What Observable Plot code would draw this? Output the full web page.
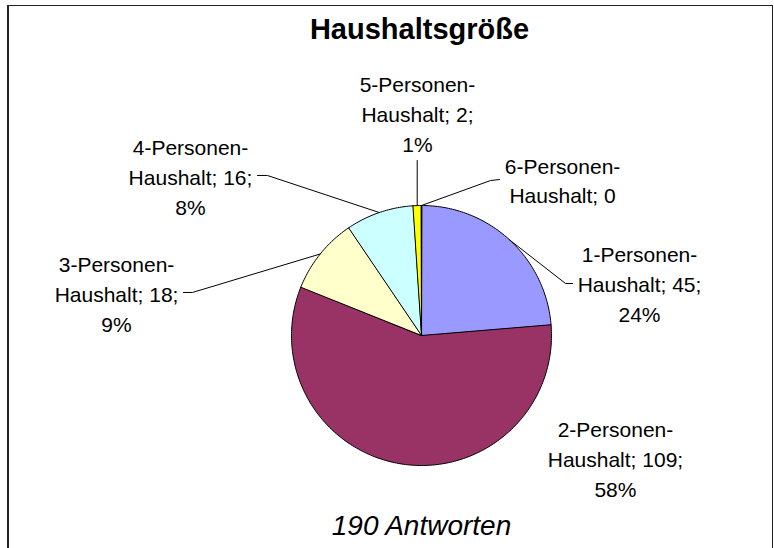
<!DOCTYPE html>
<html>
<head>
<meta charset="utf-8">
<script src="https://cdn.jsdelivr.net/npm/d3@7"></script>
<script src="https://cdn.jsdelivr.net/npm/@observablehq/plot@0.6"></script>
<style>
  html, body { margin: 0; padding: 0; background: #fff; }
  #wrap { position: relative; width: 774px; height: 548px; overflow: hidden; }
  #border { position: absolute; left: 7px; top: 5px; width: 763px; height: 600px;
            border-left: 2px solid #222; border-top: 1px solid #222; border-right: 1px solid #222; pointer-events: none; }
</style>
</head>
<body>
<div id="wrap"><div id="border"></div></div>
<script>
// ---- data ----
const titleText = "Haushaltsgröße";
const captionText = "190 Antworten";
const categories = ["1-Personen-Haushalt", "2-Personen-Haushalt", "3-Personen-Haushalt", "4-Personen-Haushalt", "5-Personen-Haushalt", "6-Personen-Haushalt"];
const counts = [45, 109, 18, 16, 2, 0];
const percentLabels = ["24%", "58%", "9%", "8%", "1%", ""];
const sliceColors = ["#9999FF", "#993366", "#FFFFCC", "#CCFFFF", "#FFFF00", "#FF8080"];

// ---- layout (pie units: radius = 1, pie centre = 0,0) ----
const labelPos = [[1.677, 0.408], [1.492, -0.938], [-2.346, 0.331], [-1.777, 1.231], [-0.031, 1.715], [1.085, 1.204]];
const leaderKnees = [
  [[1.108, 0.400], [1.162, 0.400]],
  null,
  [[-1.762, 0.331], [-1.831, 0.331]],
  [[-1.185, 1.231], [-1.262, 1.231]],
  [[-0.033, 1.346]],
  [[0.531, 1.192], [0.600, 1.200]]
];

const total = d3.sum(counts);
const slices = [];
let cum = 0;
counts.forEach((v, i) => {
  const a0 = cum / total * 2 * Math.PI;
  cum += v;
  const a1 = cum / total * 2 * Math.PI;
  slices.push({i, a0, a1, mid: (a0 + a1) / 2});
});

// polygon points for each slice
const polyPts = [];
slices.forEach(s => {
  polyPts.push({k: s.i, u: 0, v: 0});
  const n = Math.max(1, Math.ceil((s.a1 - s.a0) / (Math.PI / 180)));
  for (let j = 0; j <= n; j++) {
    const a = s.a0 + (s.a1 - s.a0) * j / n;
    polyPts.push({k: s.i, u: Math.sin(a), v: Math.cos(a)});
  }
});

// leader lines
const leaderPts = [];
slices.forEach(s => {
  const knees = leaderKnees[s.i];
  if (!knees) return;
  leaderPts.push({k: s.i, u: Math.sin(s.mid), v: Math.cos(s.mid)});
  knees.forEach(p => leaderPts.push({k: s.i, u: p[0], v: p[1]}));
});

// labels
const labels = categories.map((c, i) => {
  const parts = c.split("-");
  const head = parts[0] + "-" + parts[1] + "-";
  const tail = parts[2] + "; " + counts[i] + (percentLabels[i] ? ";\n" + percentLabels[i] : "");
  return {text: head + "\n" + tail, u: labelPos[i][0], v: labelPos[i][1]};
});

const font = "'Liberation Sans', Arial, sans-serif";
const chart = Plot.plot({
  width: 774,
  height: 548,
  margin: 0,
  x: {domain: [-421 / 130, 353 / 130], axis: null},
  y: {domain: [-213 / 130, 335 / 130], axis: null},
  style: {fontFamily: font, background: "transparent"},
  marks: [
    Plot.line(polyPts, {x: "u", y: "v", z: "k", fill: d => sliceColors[d.k], stroke: "#000", strokeWidth: 1, curve: "linear-closed", strokeLinejoin: "round"}),
    Plot.line(leaderPts, {x: "u", y: "v", z: "k", stroke: "#000", strokeWidth: 1}),
    Plot.text(labels, {x: "u", y: "v", text: "text", fontSize: 21, lineHeight: 1.42, fill: "#000", textAnchor: "middle", lineAnchor: "middle"}),
    Plot.text([titleText], {frameAnchor: "top", dx: 32, dy: 29, lineAnchor: "middle", fontSize: 29, fontWeight: "bold", fill: "#000"}),
    Plot.text([captionText], {frameAnchor: "top", dx: 34, dy: 526, lineAnchor: "middle", fontSize: 28, fontStyle: "italic", fill: "#000"})
  ]
});
document.getElementById("wrap").prepend(chart);
</script>
</body>
</html>
